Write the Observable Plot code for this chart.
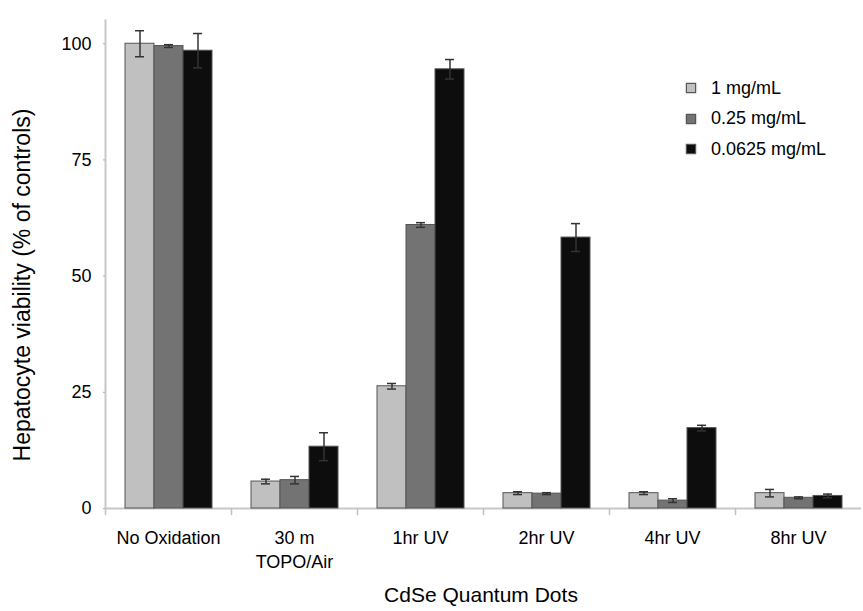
<!DOCTYPE html>
<html>
<head>
<meta charset="utf-8">
<script src="https://cdn.jsdelivr.net/npm/d3@7"></script>
<script src="https://cdn.jsdelivr.net/npm/@observablehq/plot@0.6"></script>
<style>
  body { margin: 0; background: #fff; }
  #wrap { position: relative; width: 863px; height: 611px; font-family: "Liberation Sans", Arial, Helvetica, sans-serif; color: #000; }
  #ylabel { position: absolute; left: 22px; top: 285px; transform: translate(-50%, -50%) rotate(-90deg); white-space: nowrap; font-size: 23px; line-height: 1; }
  #xlabel { position: absolute; left: 481px; top: 584px; transform: translateX(-50%); white-space: nowrap; font-size: 21px; line-height: 1; }
  #legend { position: absolute; left: 686px; top: 73px; font-size: 18px; }
  .row { display: flex; align-items: center; height: 30.5px; white-space: nowrap; }
  .sw { width: 8px; height: 8px; margin-right: 15px; border: 1px solid #555; box-shadow: 0 0 1.5px #666; }
</style>
</head>
<body>
<div id="wrap">
  <div id="chart"></div>
  <div id="ylabel">Hepatocyte viability (% of controls)</div>
  <div id="xlabel">CdSe Quantum Dots</div>
  <div id="legend"></div>
</div>
<script>
// ---- data ----
const groups = ["No Oxidation", "30 m\nTOPO/Air", "1hr UV", "2hr UV", "4hr UV", "8hr UV"];
const series = ["1 mg/mL", "0.25 mg/mL", "0.0625 mg/mL"];
const values1 = [100, 5.8, 26.3, 3.3, 3.3, 3.3];
const errors1 = [2.8, 0.5, 0.6, 0.3, 0.3, 0.8];
const values2 = [99.5, 6.1, 61.0, 3.2, 1.7, 2.3];
const errors2 = [0.3, 0.8, 0.5, 0.2, 0.4, 0.2];
const values3 = [98.5, 13.3, 94.5, 58.3, 17.3, 2.7];
const errors3 = [3.7, 3.0, 2.1, 3.0, 0.6, 0.4];
const yTicks = [0, 25, 50, 75, 100];
const colors = ["#c0c0c0", "#737373", "#0d0d0d"];

const valueSets = [values1, values2, values3];
const errorSets = [errors1, errors2, errors3];
const table = [];
groups.forEach((g, i) => {
  series.forEach((s, j) => {
    table.push({group: g, series: s, value: valueSets[j][i], err: errorSets[j][i]});
  });
});

const lineShape = {draw(context, l) { context.moveTo(0, 0); context.lineTo(0, -l); }};

const chart = Plot.plot({
  width: 863,
  height: 611,
  marginLeft: 102,
  marginRight: 0,
  marginTop: 20,
  marginBottom: 103,
  style: {fontFamily: '"Liberation Sans", Arial, Helvetica, sans-serif', fontSize: "18px", color: "#000", background: "#fff", overflow: "visible"},
  fx: {domain: groups, paddingInner: 0, paddingOuter: 0, label: null},
  x: {domain: series, paddingInner: 0, paddingOuter: 0.64, axis: null},
  y: {domain: [0, 105], ticks: yTicks, label: null},
  color: {domain: series, range: colors},
  marks: [
    Plot.ruleY([0], {stroke: "#c8c8c8", strokeWidth: 2}),
    Plot.vector([0], {frameAnchor: "bottom-left", length: 6, rotate: 180, anchor: "start", shape: lineShape, stroke: "#c0c0c0", strokeWidth: 1.5}),
    Plot.frame({anchor: "left", fx: () => groups[0], stroke: "#c8c8c8", strokeWidth: 2}),
    Plot.barY(table, {fx: "group", x: "series", y: "value", fill: "series", stroke: "#555", strokeWidth: 1}),
    Plot.ruleX(table, {fx: "group", x: "series", y1: d => d.value - d.err, y2: d => d.value + d.err, stroke: "#333", strokeWidth: 1.5}),
    Plot.tickY(table, {fx: "group", x: "series", y: d => d.value + d.err, insetLeft: 10, insetRight: 10, stroke: "#333", strokeWidth: 1.5}),
    Plot.tickY(table, {fx: "group", x: "series", y: d => d.value - d.err, insetLeft: 10, insetRight: 10, stroke: "#333", strokeWidth: 1.5}),
    Plot.axisY({ticks: yTicks, tickSize: 2, tickPadding: 12, label: null, stroke: "#aaa"}),
    Plot.axisFx({anchor: "bottom", tickSize: 0, tickPadding: 19, label: null, lineHeight: 1.33})
  ]
});
document.getElementById("chart").appendChild(chart);

const legend = document.getElementById("legend");
series.forEach((s, j) => {
  const row = document.createElement("div");
  row.className = "row";
  const sw = document.createElement("span");
  sw.className = "sw";
  sw.style.background = colors[j];
  const label = document.createElement("span");
  label.textContent = s;
  row.appendChild(sw);
  row.appendChild(label);
  legend.appendChild(row);
});
</script>
</body>
</html>
